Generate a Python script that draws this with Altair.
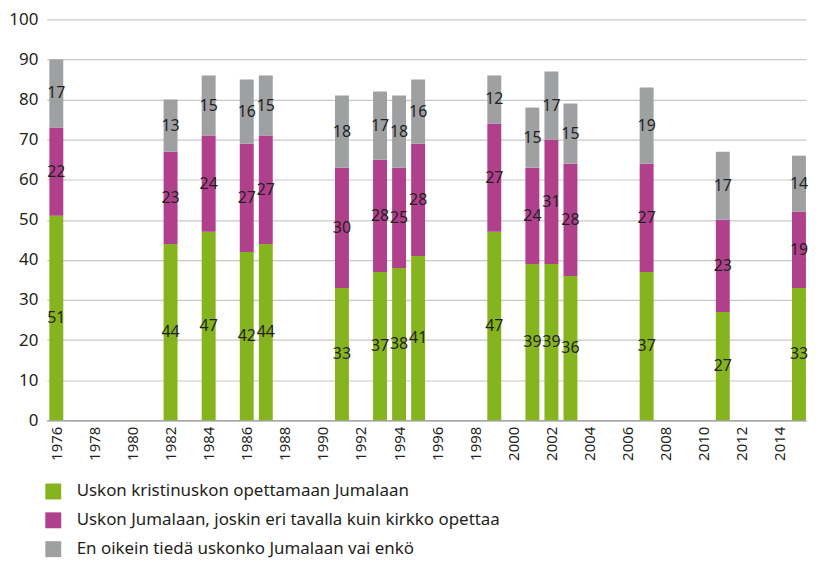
import altair as alt
import pandas as pd

years = [1976, 1982, 1984, 1986, 1987, 1991, 1993, 1994, 1995, 1999, 2001, 2002, 2003, 2007, 2011, 2015]
green = [51, 44, 47, 42, 44, 33, 37, 38, 41, 47, 39, 39, 36, 37, 27, 33]
magenta = [22, 23, 24, 27, 27, 30, 28, 25, 28, 27, 24, 31, 28, 27, 23, 19]
gray = [17, 13, 15, 16, 15, 18, 17, 18, 16, 12, 15, 17, 15, 19, 17, 14]
series = [
    "Uskon kristinuskon opettamaan Jumalaan",
    "Uskon Jumalaan, joskin eri tavalla kuin kirkko opettaa",
    "En oikein tiedä uskonko Jumalaan vai enkö",
]
colors = ["#86b41e", "#b03f8c", "#9fa0a2"]
tick_years = list(range(1976, 2015, 2))
y_ticks = list(range(0, 101, 10))

rows = []
for i, yr in enumerate(years):
    base = 0
    for k, vals in enumerate([green, magenta, gray]):
        v = vals[i]
        rows.append({"year": yr, "series": series[k], "order": k, "value": v,
                     "y0": base, "y1": base + v, "mid": base + v / 2})
        base += v
df = pd.DataFrame(rows)

FONT = "Noto Sans"

x = alt.X("year:Q", scale=alt.Scale(domain=[1975.5, 2015.37], nice=False, zero=False, padding=0),
          axis=alt.Axis(values=tick_years, format="d", title=None, labelAngle=-90,
                        labelFontSize=15, labelPadding=6, ticks=False, grid=False,
                        domainColor="#a6a6a6", domainWidth=1.5, labelColor="#231f20"))

bars = alt.Chart(df).mark_bar(size=14).encode(
    x=x,
    y=alt.Y("y0:Q", scale=alt.Scale(domain=[0, 100], nice=False),
            axis=alt.Axis(values=y_ticks, title=None, labelFontSize=17, labelPadding=9,
                          ticks=False, domain=False, gridColor="#c8c8c8", gridWidth=1.2,
                          labelColor="#231f20")),
    y2="y1:Q",
    color=alt.Color("series:N", scale=alt.Scale(domain=series, range=colors),
                    legend=alt.Legend(orient="none", legendX=-2, legendY=466, title=None,
                                      direction="vertical", symbolType="square",
                                      symbolSize=256, symbolStrokeWidth=0, labelFontSize=17,
                                      labelOffset=15, rowPadding=11, padding=0,
                                      labelColor="#231f20", labelLimit=600)),
    order=alt.Order("order:Q"),
)

labels = alt.Chart(df).mark_text(fontSize=16, color="#231f20", font=FONT).encode(
    x=alt.X("year:Q"),
    y=alt.Y("mid:Q"),
    text=alt.Text("value:Q"),
)

chart = (bars + labels).properties(width=763, height=403, padding={"left": 0, "top": 1, "right": 0, "bottom": 0}).configure(
    font=FONT
).configure_view(stroke=None).configure_axis(labelFont=FONT).configure_legend(labelFont=FONT)

chart.save("out.html", embed_options={"renderer": "svg", "actions": False})
